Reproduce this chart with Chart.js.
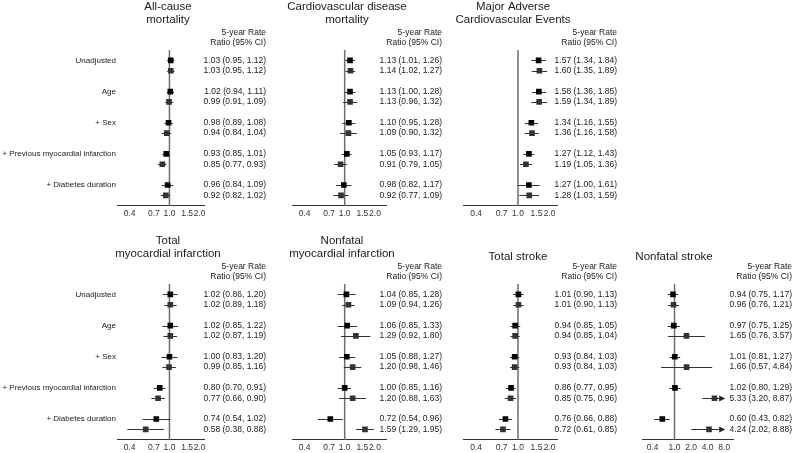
<!DOCTYPE html>
<html>
<head>
<meta charset="utf-8">
<script src="https://cdn.jsdelivr.net/npm/chart.js@4.4.0/dist/chart.umd.min.js"></script>
<style>
  html, body { margin: 0; padding: 0; background: #fff; width: 793px; height: 453px; overflow: hidden; }
  canvas { position: absolute; }
</style>
</head>
<body>
<script>
// row labels, one per adjustment step (two estimates per step)
const rowLabels = ['Unadjusted', 'Age', '+ Sex', '+ Previous myocardial infarction', '+ Diabetes duration'];
const rowPos = [0, 1, 3, 4, 6, 7, 9, 10, 12, 13];

// [rate ratio, lower 95% CI, upper 95% CI]
const allCause = [[1.03, 0.95, 1.12], [1.03, 0.95, 1.12], [1.02, 0.94, 1.11], [0.99, 0.91, 1.09], [0.98, 0.89, 1.08],
                  [0.94, 0.84, 1.04], [0.93, 0.85, 1.01], [0.85, 0.77, 0.93], [0.96, 0.84, 1.09], [0.92, 0.82, 1.02]];
const cvdMortality = [[1.13, 1.01, 1.26], [1.14, 1.02, 1.27], [1.13, 1.00, 1.28], [1.13, 0.96, 1.32], [1.10, 0.95, 1.28],
                      [1.09, 0.90, 1.32], [1.05, 0.93, 1.17], [0.91, 0.79, 1.05], [0.98, 0.82, 1.17], [0.92, 0.77, 1.09]];
const mace = [[1.57, 1.34, 1.84], [1.60, 1.35, 1.89], [1.58, 1.36, 1.85], [1.59, 1.34, 1.89], [1.34, 1.16, 1.55],
              [1.36, 1.16, 1.58], [1.27, 1.12, 1.43], [1.19, 1.05, 1.36], [1.27, 1.00, 1.61], [1.28, 1.03, 1.59]];
const totalMI = [[1.02, 0.86, 1.20], [1.02, 0.89, 1.18], [1.02, 0.85, 1.22], [1.02, 0.87, 1.19], [1.00, 0.83, 1.20],
                 [0.99, 0.85, 1.16], [0.80, 0.70, 0.91], [0.77, 0.66, 0.90], [0.74, 0.54, 1.02], [0.58, 0.38, 0.88]];
const nonfatalMI = [[1.04, 0.85, 1.28], [1.09, 0.94, 1.26], [1.06, 0.85, 1.33], [1.29, 0.92, 1.80], [1.05, 0.88, 1.27],
                    [1.20, 0.98, 1.46], [1.00, 0.85, 1.16], [1.20, 0.88, 1.63], [0.72, 0.54, 0.96], [1.59, 1.29, 1.95]];
const totalStroke = [[1.01, 0.90, 1.13], [1.01, 0.90, 1.13], [0.94, 0.85, 1.05], [0.94, 0.85, 1.04], [0.93, 0.84, 1.03],
                     [0.93, 0.84, 1.03], [0.86, 0.77, 0.95], [0.85, 0.75, 0.96], [0.76, 0.66, 0.88], [0.72, 0.61, 0.85]];
const nonfatalStroke = [[0.94, 0.75, 1.17], [0.96, 0.76, 1.21], [0.97, 0.75, 1.25], [1.65, 0.76, 3.57], [1.01, 0.81, 1.27],
                        [1.66, 0.57, 4.84], [1.02, 0.80, 1.29], [5.33, 3.20, 8.87], [0.60, 0.43, 0.82], [4.24, 2.02, 8.88]];

const ratioTicks = [0.4, 0.7, 1.0, 1.5, 2.0];
const strokeTicks = [0.4, 1.0, 2.0, 4.0, 8.0];
const headerLines = ['5-year Rate', 'Ratio (95% CI)'];

Chart.defaults.font.family = "'Liberation Sans', Arial, sans-serif";
const textColor = '#1a1a1a';

const panels = [
    { title: ['All-cause', 'mortality'], rows: allCause, ticks: ratioTicks, left: 0, top: 0, width: 270,
      axis: [117, 204], range: [0.334, 2.21], textRight: 266, titleX: 168, labels: true },
    { title: ['Cardiovascular disease', 'mortality'], rows: cvdMortality, ticks: ratioTicks, left: 270, top: 0, width: 175,
      axis: [292, 386], range: [0.336, 2.57], textRight: 442, titleX: 347 },
    { title: ['Major Adverse', 'Cardiovascular Events'], rows: mace, ticks: ratioTicks, left: 445, top: 0, width: 175,
      axis: [463, 557], range: [0.31, 2.35], textRight: 617, titleX: 513 },
    { title: ['Total', 'myocardial infarction'], rows: totalMI, ticks: ratioTicks, left: 0, top: 234, width: 270,
      axis: [117, 204], range: [0.334, 2.21], textRight: 266, titleX: 168, labels: true },
    { title: ['Nonfatal', 'myocardial infarction'], rows: nonfatalMI, ticks: ratioTicks, left: 270, top: 234, width: 175,
      axis: [292, 386], range: [0.336, 2.57], textRight: 442, titleX: 342 },
    { title: ['Total stroke'], rows: totalStroke, ticks: ratioTicks, left: 445, top: 234, width: 175,
      axis: [463, 557], range: [0.31, 2.35], textRight: 617, titleX: 518 },
    { title: ['Nonfatal stroke'], rows: nonfatalStroke, ticks: strokeTicks, left: 620, top: 234, width: 173,
      axis: [642, 733], range: [0.257, 11.55], textRight: 792, titleX: 674, cap: 8.0 }
];

function fmt(v) { return v.toFixed(2); }

function forestPlugin(p) {
    return {
        id: 'forest',
        beforeDatasetsDraw(chart) {
            const { ctx, chartArea, scales: { x, y } } = chart;
            ctx.save();
            // reference line at 1.0
            const x1 = x.getPixelForValue(1);
            ctx.strokeStyle = '#6e6e6e';
            ctx.lineWidth = 1.5;
            ctx.beginPath();
            ctx.moveTo(x1, y.getPixelForValue(-1));
            ctx.lineTo(x1, chartArea.bottom);
            ctx.stroke();
            // confidence intervals
            ctx.strokeStyle = '#333';
            ctx.fillStyle = '#222';
            ctx.lineWidth = 1;
            p.rows.forEach((r, i) => {
                const yp = Math.round(y.getPixelForValue(rowPos[i])) + 0.5;
                const clipped = p.cap && r[2] > p.cap;
                const xr = x.getPixelForValue(clipped ? p.cap : r[2]);
                ctx.beginPath();
                ctx.moveTo(x.getPixelForValue(r[1]), yp);
                ctx.lineTo(xr, yp);
                ctx.stroke();
                if (clipped) {
                    ctx.beginPath();
                    ctx.moveTo(xr + 1, yp);
                    ctx.lineTo(xr - 5, yp - 3);
                    ctx.lineTo(xr - 5, yp + 3);
                    ctx.closePath();
                    ctx.fill();
                }
            });
            ctx.restore();
        },
        afterDraw(chart) {
            const { ctx, chartArea, scales: { y } } = chart;
            ctx.save();
            ctx.fillStyle = textColor;
            ctx.textBaseline = 'middle';
            // title
            ctx.font = "11.5px 'Liberation Sans', Arial, sans-serif";
            ctx.textAlign = 'center';
            const tx = p.titleX - p.left;
            if (p.title.length === 2) {
                ctx.fillText(p.title[0], tx, 7);
                ctx.fillText(p.title[1], tx, 20);
            } else {
                ctx.fillText(p.title[0], tx, 22.5);
            }
            // header + values
            ctx.font = "8.5px 'Liberation Sans', Arial, sans-serif";
            ctx.textAlign = 'right';
            const rx = p.textRight - p.left;
            ctx.fillText(headerLines[0], rx, 33);
            ctx.fillText(headerLines[1], rx, 43);
            p.rows.forEach((r, i) => {
                ctx.fillText(`${fmt(r[0])} (${fmt(r[1])}, ${fmt(r[2])})`, rx, y.getPixelForValue(rowPos[i]));
            });
            if (p.labels) {
                ctx.font = "8px 'Liberation Sans', Arial, sans-serif";
                rowLabels.forEach((lab, g) => {
                    ctx.fillText(lab, chartArea.left - 1, y.getPixelForValue(rowPos[g * 2]));
                });
            }
            ctx.restore();
        }
    };
}

panels.forEach(p => {
    const canvas = document.createElement('canvas');
    canvas.width = p.width;
    canvas.height = 222;
    canvas.style.left = p.left + 'px';
    canvas.style.top = p.top + 'px';
    document.body.appendChild(canvas);

    const points = p.rows.map((r, i) => ({ x: r[0], y: rowPos[i] }));
    const colors = p.rows.map((r, i) => (i % 2 === 0 ? '#000' : '#333'));

    new Chart(canvas, {
        type: 'scatter',
        data: {
            datasets: [{
                data: points,
                pointStyle: 'rect',
                pointRadius: 4,
                pointBackgroundColor: colors,
                pointBorderColor: colors,
                pointBorderWidth: 0
            }]
        },
        options: {
            responsive: false,
            animation: false,
            layout: {
                padding: {
                    top: 50,
                    left: p.axis[0] - p.left,
                    right: p.left + p.width - p.axis[1],
                    bottom: 0
                }
            },
            plugins: { legend: { display: false }, tooltip: { enabled: false } },
            scales: {
                x: {
                    type: 'logarithmic',
                    min: p.range[0],
                    max: p.range[1],
                    grid: { display: false, drawTicks: false },
                    border: { display: true, color: '#333', width: 1 },
                    ticks: {
                        autoSkip: false,
                        maxRotation: 0,
                        padding: 3,
                        color: '#333',
                        font: { size: 8.5 },
                        callback: v => Number(v).toFixed(1)
                    },
                    afterBuildTicks: s => { s.ticks = p.ticks.map(v => ({ value: v })); }
                },
                y: { type: 'linear', reverse: true, min: -1, max: 14, display: false }
            }
        },
        plugins: [forestPlugin(p)]
    });
});
</script>
</body>
</html>
